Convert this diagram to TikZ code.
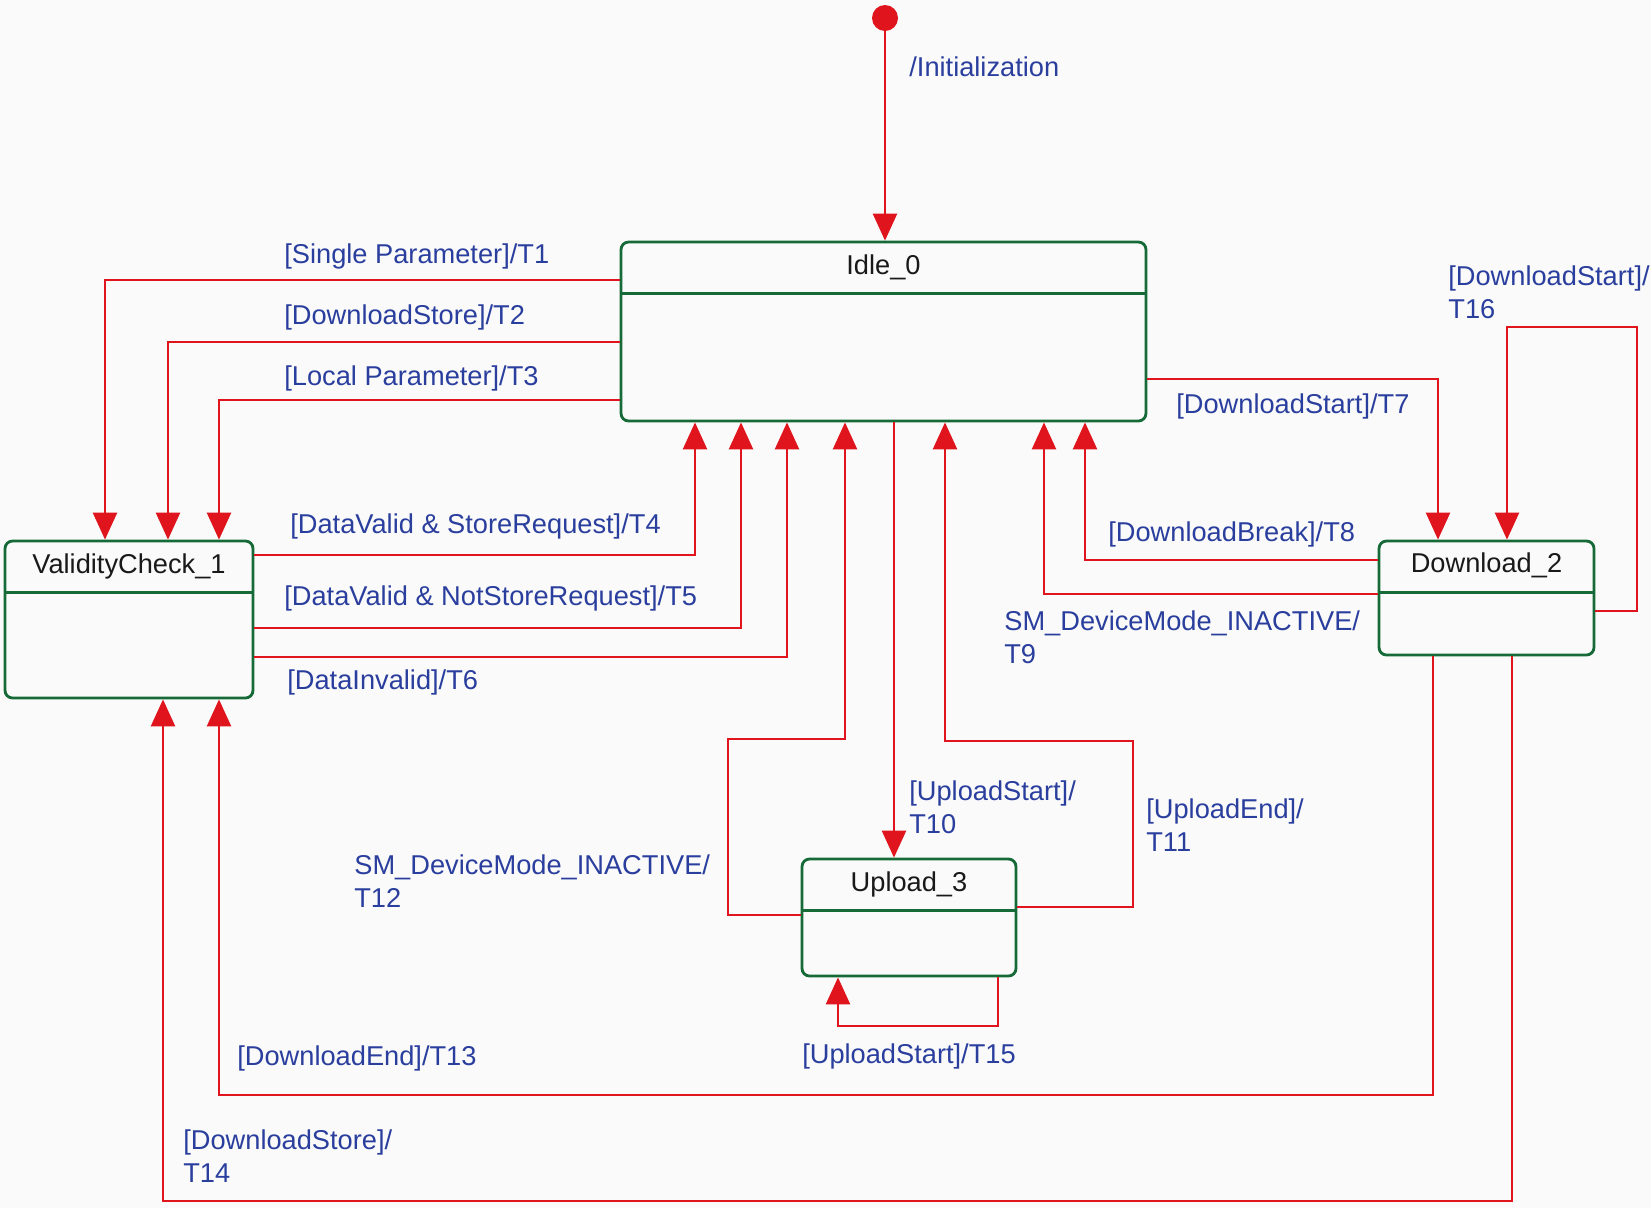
\documentclass[tikz,border=0pt]{standalone}
\usepackage{fontspec}
\setmainfont{Liberation Sans}
\usetikzlibrary{arrows.meta,positioning,calc}
\definecolor{trred}{RGB}{224,20,28}
\definecolor{stgreen}{RGB}{22,106,56}
\definecolor{lblblue}{RGB}{42,62,158}
\newcommand{\stdivider}[1]{\draw[stgreen,line width=1.6pt] ([yshift=-1.06cm]#1.north west) -- ([yshift=-1.06cm]#1.north east);}

\begin{document}
\begin{tikzpicture}[x=0.02cm,y=-0.02cm,
    state/.style={draw=stgreen,line width=1.6pt,rounded corners=0.15cm,inner sep=0pt},
    stname/.style={text=black!90,inner sep=0pt,font=\fontsize{15.5}{19}\selectfont},
    tr/.style={trred,line width=1.4pt,-{Triangle[width=0.48cm,length=0.54cm]}},
    lbl/.style={text=lblblue,anchor=west,inner sep=0pt,align=left,font=\fontsize{15.5}{18.7}\selectfont}]
    \fill[black!2] (0,0) rectangle (1651,1208);
    \useasboundingbox (0,0) rectangle (1651,1208);

    % states
    \node[state,minimum width=10.5cm,minimum height=3.58cm] (idle) at (883.5,331.5) {};
    \node[state,minimum width=4.96cm,minimum height=3.14cm] (vc) at (129,619.5) {};
    \node[state,minimum width=4.30cm,minimum height=2.28cm] (dl) at (1486.5,598) {};
    \node[state,minimum width=4.28cm,minimum height=2.34cm] (up) at (909,917.5) {};
    \stdivider{idle} \stdivider{vc} \stdivider{dl} \stdivider{up}
    \node[stname] (idlet) at ([yshift=-0.54cm]idle.north) {Idle\_0};
    \node[stname] (vct) at ([yshift=-0.53cm]vc.north) {ValidityCheck\_1};
    \node[stname] (dlt) at ([yshift=-0.52cm]dl.north) {Download\_2};
    \node[stname] (upt) at ([yshift=-0.53cm]up.north) {Upload\_3};

    \node[circle,fill=trred,minimum size=0.52cm,inner sep=0pt] (init) at (885,18) {};
    \draw[tr] (init.center) -- (idle.north -| init.center);
    \node[lbl] (linit) at (909,67) {/Initialization};

    % Idle_0 -> ValidityCheck_1
    \draw[tr] (idle.west |- 0,280) -| (vc.north -| 105,0);
    \draw[tr] (idle.west |- 0,342) -| (vc.north -| 168,0);
    \draw[tr] (idle.west |- 0,400) -| (vc.north -| 219,0);
    \node[lbl] (l1) at (284,256) {[Single Parameter]/T1};
    \node[lbl] (l2) at (284,317) {[DownloadStore]/T2};
    \node[lbl] (l3) at (284,378) {[Local Parameter]/T3};

    % ValidityCheck_1 -> Idle_0
    \draw[tr] (vc.east |- 0,555) -| (idle.south -| 695,0);
    \draw[tr] (vc.east |- 0,628) -| (idle.south -| 741,0);
    \draw[tr] (vc.east |- 0,657) -| (idle.south -| 787,0);
    \node[lbl] (l4) at (290,526) {[DataValid \& StoreRequest]/T4};
    \node[lbl] (l5) at (284,598) {[DataValid \& NotStoreRequest]/T5};
    \node[lbl] (l6) at (287,682) {[DataInvalid]/T6};

    % Download_2
    \draw[tr] (idle.east |- 0,379) -| (dl.north -| 1438,0);
    \draw[tr] (dl.west |- 0,560) -| (idle.south -| 1085,0);
    \draw[tr] (dl.west |- 0,594) -| (idle.south -| 1044,0);
    \draw[tr] (dl.east |- 0,611) -| (1637,327) -| (dl.north -| 1507,0);
    \node[lbl] (l7) at (1176,406) {[DownloadStart]/T7};
    \node[lbl] (l8) at (1108,534) {[DownloadBreak]/T8};
    \node[lbl] (l9) at (1004,637.5) {SM\_DeviceMode\_INACTIVE/\\T9};
    \node[lbl] (l16) at (1448,292.5) {[DownloadStart]/\\T16};

    % Upload_3
    \draw[tr] (idle.south -| 894,0) -- (up.north -| 894,0);
    \draw[tr] (up.east |- 0,907) -| (1133,741) -| (idle.south -| 945,0);
    \draw[tr] (up.west |- 0,915) -| (728,739) -| (idle.south -| 845,0);
    \draw[tr] (up.south -| 998,0) |- (838,1026) -- (up.south -| 838,0);
    \node[lbl] (l10) at (909,807) {[UploadStart]/\\T10};
    \node[lbl] (l11) at (1146,825) {[UploadEnd]/\\T11};
    \node[lbl] (l12) at (354,881) {SM\_DeviceMode\_INACTIVE/\\T12};
    \node[lbl,anchor=center] (l15) at (909,1056) {[UploadStart]/T15};

    % back to ValidityCheck_1
    \draw[tr] (dl.south -| 1433,0) |- (219,1095) -- (vc.south -| 219,0);
    \draw[tr] (dl.south -| 1512,0) |- (163,1201) -- (vc.south -| 163,0);
    \node[lbl] (l13) at (237,1058) {[DownloadEnd]/T13};
    \node[lbl] (l14) at (183,1156.5) {[DownloadStore]/\\T14};
\end{tikzpicture}
\end{document}
